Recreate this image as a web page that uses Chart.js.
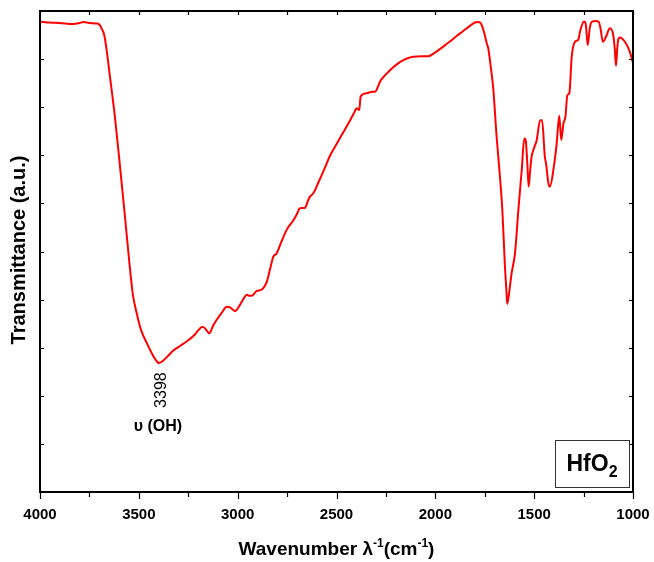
<!DOCTYPE html>
<html>
<head>
<meta charset="utf-8">
<title>HfO2 FTIR</title>
<script src="https://cdn.jsdelivr.net/npm/chart.js@4.4.1/dist/chart.umd.min.js"></script>
<style>
  html, body { margin: 0; padding: 0; background: #fff; }
  #wrap { width: 654px; height: 562px; }
</style>
</head>
<body>
<div id="wrap"><canvas id="ftirChart" width="654" height="562"></canvas></div>
<script>
// FTIR spectrum of HfO2
const wavenumbers = [
  4000, 3950, 3900, 3833, 3800, 3781, 3750, 3713, 3700, 3690, 3675, 3663, 3646, 3621, 3595, 3570,
  3545, 3530, 3511, 3490, 3460, 3430, 3410, 3398, 3380, 3355, 3326, 3290, 3258, 3220, 3195, 3182,
  3170, 3155, 3143, 3125, 3106, 3080, 3055, 3035, 3013, 2990, 2970, 2954, 2940, 2929, 2904, 2878,
  2853, 2835, 2820, 2803, 2780, 2752, 2718, 2700, 2685, 2659, 2645, 2634, 2617, 2590, 2560, 2533,
  2500, 2474, 2440, 2410, 2398, 2385, 2378, 2347, 2320, 2305, 2290, 2280, 2255, 2229, 2195, 2162,
  2130, 2111, 2070, 2036, 2000, 1960, 1925, 1892, 1860, 1825, 1800, 1785, 1771, 1755, 1740, 1732,
  1720, 1707, 1690, 1673, 1661, 1648, 1640, 1636, 1628, 1614, 1597, 1580, 1563, 1550, 1543, 1535,
  1528, 1520, 1513, 1504, 1487, 1470, 1460, 1446, 1440, 1428, 1420, 1403, 1386, 1373, 1363, 1352,
  1342, 1332, 1322, 1310, 1294, 1277, 1268, 1248, 1240, 1229, 1219, 1207, 1190, 1174, 1165, 1152,
  1135, 1117, 1100, 1092, 1086, 1080, 1075, 1066, 1041, 1016, 1000
];
const transmittance = [
  97.8, 97.6, 97.5, 97.3, 97.5, 97.7, 97.5, 97.4, 97.2, 96.5, 95.0, 91.9, 86.3, 78.0, 67.6, 57.2,
  46.5, 41.0, 37.2, 33.8, 31.0, 28.5, 27.2, 26.8, 27.2, 28.2, 29.4, 30.4, 31.3, 32.6, 33.8, 34.3,
  34.2, 33.5, 33.0, 34.5, 35.8, 37.3, 38.5, 38.3, 37.6, 38.8, 40.2, 41.0, 40.8, 40.8, 41.8, 42.1,
  43.7, 46.5, 48.9, 49.6, 51.9, 54.5, 56.5, 57.8, 59.0, 59.1, 60.5, 61.4, 62.1, 64.5, 67.3, 69.9,
  72.3, 74.2, 76.6, 78.9, 79.8, 79.4, 82.2, 82.9, 83.2, 83.2, 84.3, 85.3, 86.6, 87.7, 88.9, 89.8,
  90.3, 90.5, 90.6, 90.6, 91.4, 92.6, 93.7, 94.8, 95.8, 96.9, 97.6, 97.7, 97.5, 95.8, 93.3, 92.2,
  88.5, 83.9, 73.9, 65.5, 58.6, 47.0, 41.5, 39.1, 41.0, 45.5, 49.6, 58.6, 66.9, 73.5, 73.2, 68.5,
  63.5, 67.0, 69.7, 71.1, 73.2, 77.3, 77.3, 69.7, 68.3, 64.2, 63.5, 66.9, 72.5, 78.2, 73.2, 76.6,
  78.0, 82.5, 82.9, 90.5, 93.6, 94.0, 95.7, 97.8, 97.5, 92.9, 96.4, 97.8, 97.9, 97.8, 96.5, 93.6,
  94.8, 96.4, 95.0, 92.0, 88.6, 92.0, 94.0, 94.5, 93.6, 91.5, 89.2
];
const xTickLabels = [4000, 3500, 3000, 2500, 2000, 1500, 1000];
const peakLabel = '3398';
const bandLabel = 'υ (OH)';
const sampleName = 'HfO';

const FONT = '"Liberation Sans", Arial, sans-serif';

// frame, tick marks, axis titles and annotations
const decorPlugin = {
  id: 'decor',
  afterDraw(chart) {
    const { ctx, chartArea: a, scales } = chart;
    const xs = scales.x, ys = scales.y;
    ctx.save();
    ctx.strokeStyle = '#000';
    ctx.lineWidth = 2;
    ctx.strokeRect(a.left, a.top, a.right - a.left, a.bottom - a.top);

    ctx.lineWidth = 1.2;
    ctx.beginPath();
    for (let v = 1000; v <= 4000; v += 250) {
      const px = Math.round(xs.getPixelForValue(v)) + 0.5;
      const len = v % 500 === 0 ? 7 : 5;
      ctx.moveTo(px, a.bottom); ctx.lineTo(px, a.bottom + len);
      ctx.moveTo(px, a.top); ctx.lineTo(px, a.top + 4);
    }
    for (let v = 0; v <= 100; v += 10) {
      const py = Math.round(ys.getPixelForValue(v)) + 0.5;
      ctx.moveTo(a.left, py); ctx.lineTo(a.left + 4, py);
      ctx.moveTo(a.right, py); ctx.lineTo(a.right - 4, py);
    }
    ctx.stroke();

    // y title
    ctx.fillStyle = '#000';
    ctx.font = 'bold 20px ' + FONT;
    ctx.textAlign = 'center';
    ctx.textBaseline = 'middle';
    ctx.save();
    ctx.translate(19, 250);
    ctx.rotate(-Math.PI / 2);
    ctx.fillText('Transmittance (a.u.)', 0, 0);
    ctx.restore();

    // x title with superscripts
    const parts = [
      ['Wavenumber λ', false], ['-1', true], ['(cm', false], ['-1', true], [')', false]
    ];
    const big = 'bold 19px ' + FONT, small = 'bold 12px ' + FONT;
    let total = 0;
    parts.forEach(p => { ctx.font = p[1] ? small : big; total += ctx.measureText(p[0]).width; });
    let cx = (a.left + a.right) / 2 - total / 2;
    const base = 555;
    ctx.textAlign = 'left';
    ctx.textBaseline = 'alphabetic';
    parts.forEach(p => {
      ctx.font = p[1] ? small : big;
      ctx.fillText(p[0], cx, p[1] ? base - 8 : base);
      cx += ctx.measureText(p[0]).width;
    });

    // peak annotation
    const pkX = xs.getPixelForValue(3398);
    const pkY = ys.getPixelForValue(26.8);
    ctx.save();
    ctx.translate(pkX + 3, pkY + 27);
    ctx.rotate(-Math.PI / 2);
    ctx.font = '16px ' + FONT;
    ctx.textAlign = 'center';
    ctx.textBaseline = 'middle';
    ctx.fillText(peakLabel, 0, 0);
    ctx.restore();
    ctx.font = 'bold 16px ' + FONT;
    ctx.textAlign = 'center';
    ctx.textBaseline = 'middle';
    ctx.fillText(bandLabel, pkX - 1, pkY + 64);

    // sample box
    const bx = 555, by = 440, bw = 74, bh = 47;
    ctx.lineWidth = 1;
    ctx.strokeStyle = '#333';
    ctx.strokeRect(bx + 0.5, by + 0.5, bw, bh);
    ctx.font = 'bold 23px ' + FONT;
    ctx.textAlign = 'left';
    ctx.textBaseline = 'alphabetic';
    const w1 = ctx.measureText(sampleName).width;
    ctx.font = 'bold 16px ' + FONT;
    const w2 = ctx.measureText('2').width;
    let tx = bx + bw / 2 - (w1 + w2) / 2;
    ctx.font = 'bold 23px ' + FONT;
    ctx.fillText(sampleName, tx, 471);
    ctx.font = 'bold 16px ' + FONT;
    ctx.fillText('2', tx + w1, 477);
    ctx.restore();
  }
};

const points = wavenumbers.map((w, i) => ({ x: w, y: transmittance[i] }));

new Chart(document.getElementById('ftirChart').getContext('2d'), {
  type: 'line',
  data: {
    datasets: [{
      label: 'HfO2',
      data: points,
      borderColor: '#ff0000',
      borderWidth: 2,
      pointRadius: 0,
      cubicInterpolationMode: 'monotone',
      fill: false
    }]
  },
  options: {
    responsive: false,
    animation: false,
    layout: { padding: { left: 0, right: 21, top: 11, bottom: 0 } },
    plugins: { legend: { display: false }, tooltip: { enabled: false } },
    scales: {
      x: {
        type: 'linear',
        reverse: true,
        min: 1000,
        max: 4000,
        afterFit(s) { s.height = 70; s.paddingLeft = 0; s.paddingRight = 0; },
        afterBuildTicks(s) { s.ticks = xTickLabels.map(v => ({ value: v })); },
        grid: { display: false, drawTicks: false },
        border: { display: false },
        ticks: {
          padding: 14,
          maxRotation: 0,
          autoSkip: false,
          color: '#000',
          font: { family: FONT, size: 15, weight: 'bold' },
          callback: v => String(v)
        }
      },
      y: {
        min: 0,
        max: 100,
        afterFit(s) { s.width = 40; s.paddingTop = 0; s.paddingBottom = 0; },
        grid: { display: false, drawTicks: false },
        border: { display: false },
        ticks: { display: false }
      }
    }
  },
  plugins: [decorPlugin]
});
</script>
</body>
</html>
